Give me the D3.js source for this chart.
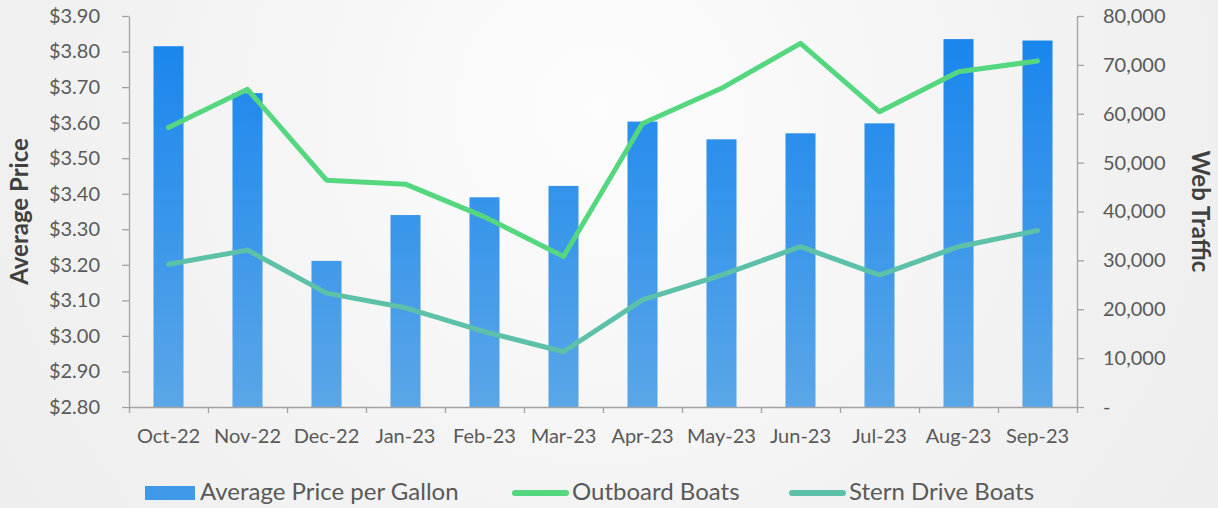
<!DOCTYPE html>
<html>
<head>
<meta charset="utf-8">
<script src="https://cdn.jsdelivr.net/npm/d3@7/dist/d3.min.js"></script>
<style>
  html, body { margin: 0; padding: 0; background: #f1f1f1; }
  svg { display: block; }
  text { font-family: Lato, "Open Sans", sans-serif; }
</style>
</head>
<body>
<svg id="chart" width="1218" height="508"></svg>
<script>
// ---- data ----
const months = ["Oct-22","Nov-22","Dec-22","Jan-23","Feb-23","Mar-23","Apr-23","May-23","Jun-23","Jul-23","Aug-23","Sep-23"];
const avgPrice = [3.815, 3.683, 3.211, 3.340, 3.390, 3.422, 3.603, 3.553, 3.570, 3.598, 3.835, 3.831];
const outboardBoats = [57200, 65000, 46400, 45600, 38900, 30800, 58000, 65200, 74400, 60400, 68600, 70800];
const sternDriveBoats = [29200, 32100, 23300, 20300, 15400, 11300, 21900, 27000, 32800, 27000, 32800, 36100];
const priceTicks = [2.80, 2.90, 3.00, 3.10, 3.20, 3.30, 3.40, 3.50, 3.60, 3.70, 3.80, 3.90];
const trafficTicks = [0, 10000, 20000, 30000, 40000, 50000, 60000, 70000, 80000];
const seriesNames = ["Average Price per Gallon", "Outboard Boats", "Stern Drive Boats"];

// ---- layout ----
const W = 1218, H = 508;
const L = 129, R = 1077, T = 16, B = 407;
const svg = d3.select("#chart");
const defs = svg.append("defs");

const bg = defs.append("radialGradient").attr("id","bg")
  .attr("gradientUnits","userSpaceOnUse").attr("cx",600).attr("cy",110).attr("r",700);
bg.append("stop").attr("offset","0%").attr("stop-color","#fdfdfd");
bg.append("stop").attr("offset","60%").attr("stop-color","#f3f3f3");
bg.append("stop").attr("offset","100%").attr("stop-color","#eeeeee");
svg.append("rect").attr("width",W).attr("height",H).attr("fill","url(#bg)");

const barGrad = defs.append("linearGradient").attr("id","barGrad")
  .attr("gradientUnits","userSpaceOnUse").attr("x1",0).attr("y1",T).attr("x2",0).attr("y2",B);
barGrad.append("stop").attr("offset","0%").attr("stop-color","#1584ee");
barGrad.append("stop").attr("offset","100%").attr("stop-color","#5aa6e7");

// ---- scales ----
const x = d3.scaleBand().domain(months).range([L, R]).paddingInner(0.62).paddingOuter(0.31);
const xEdge = d3.scaleLinear().domain([0, months.length]).range([L, R]);
const yL = d3.scaleLinear().domain([2.8, 3.9]).range([B, T]);
const yR = d3.scaleLinear().domain([0, 80000]).range([B, T]);

// ---- bars ----
svg.append("g").selectAll("rect").data(avgPrice).join("rect")
  .attr("x", (d,i) => x(months[i]))
  .attr("width", x.bandwidth())
  .attr("y", d => yL(d))
  .attr("height", d => B - yL(d))
  .attr("fill", "url(#barGrad)");

// ---- axes ----
const axisColor = "#a3a3a3", labelColor = "#595959";
function styleAxis(g) {
  g.selectAll("path, line").attr("stroke", axisColor).attr("stroke-width", 1.3);
  g.selectAll("text").attr("fill", labelColor).style("font-size", "20px");
}

svg.append("g").attr("transform", `translate(${L},0)`)
  .call(d3.axisLeft(yL).tickValues(priceTicks).tickFormat(d3.format("$.2f")).tickSize(7).tickSizeOuter(0).tickPadding(22))
  .call(styleAxis);

svg.append("g").attr("transform", `translate(${R},0)`)
  .call(d3.axisRight(yR).tickValues(trafficTicks).tickFormat(d => d === 0 ? "-" : d3.format(",")(d)).tickSize(7).tickSizeOuter(0).tickPadding(19))
  .call(styleAxis);

svg.append("g").attr("transform", `translate(0,${B})`)
  .call(d3.axisBottom(xEdge).tickValues(d3.range(0, months.length + 1)).tickFormat("").tickSize(6).tickSizeOuter(0))
  .call(styleAxis);

const xLab = svg.append("g").attr("transform", `translate(0,${B})`)
  .call(d3.axisBottom(x).tickSize(0).tickSizeOuter(0))
  .call(styleAxis);
xLab.select(".domain").remove();
xLab.selectAll("text").attr("y", 36).attr("dy", 0);

// ---- lines ----
const cx = i => x(months[i]) + x.bandwidth() / 2;
const lineGen = d3.line().x((d,i) => cx(i)).y(d => yR(d));
svg.append("path").datum(sternDriveBoats).attr("d", lineGen)
  .attr("fill","none").attr("stroke","#5cc1a8").attr("stroke-width",5)
  .attr("stroke-linejoin","round").attr("stroke-linecap","round");
svg.append("path").datum(outboardBoats).attr("d", lineGen)
  .attr("fill","none").attr("stroke","#55d780").attr("stroke-width",5)
  .attr("stroke-linejoin","round").attr("stroke-linecap","round");

// ---- axis titles ----
svg.append("text").attr("transform", `translate(28,${(T+B)/2}) rotate(-90)`)
  .attr("text-anchor","middle").attr("fill","#404040")
  .style("font-size","24px").style("font-weight","bold").text("Average Price");
svg.append("text").attr("transform", `translate(1192,${(T+B)/2}) rotate(90)`)
  .attr("text-anchor","middle").attr("fill","#404040")
  .style("font-size","24px").style("font-weight","bold").text("Web Traffic");

// ---- legend ----
const lg = svg.append("g");
lg.append("rect").attr("x",145).attr("y",486).attr("width",50).attr("height",14).attr("fill","#3f98e8");
lg.append("text").attr("x",200).attr("y",500).attr("fill",labelColor).style("font-size","24px").text(seriesNames[0]);
lg.append("line").attr("x1",515).attr("x2",566).attr("y1",493).attr("y2",493)
  .attr("stroke","#55d780").attr("stroke-width",6).attr("stroke-linecap","round");
lg.append("text").attr("x",572).attr("y",500).attr("fill",labelColor).style("font-size","24px").text(seriesNames[1]);
lg.append("line").attr("x1",792).attr("x2",843).attr("y1",493).attr("y2",493)
  .attr("stroke","#5cc1a8").attr("stroke-width",6).attr("stroke-linecap","round");
lg.append("text").attr("x",849).attr("y",500).attr("fill",labelColor).style("font-size","24px").text(seriesNames[2]);
</script>
</body>
</html>
